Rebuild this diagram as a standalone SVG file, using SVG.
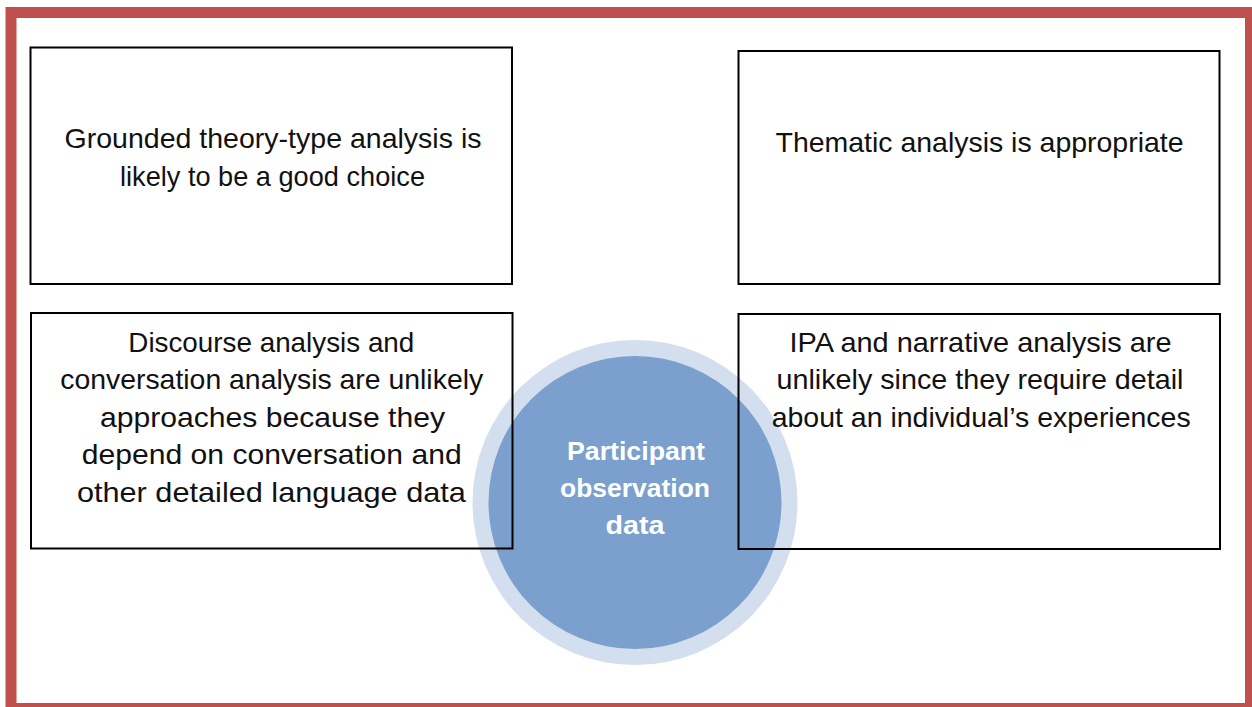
<svg xmlns="http://www.w3.org/2000/svg" width="1252" height="707" viewBox="0 0 1252 707">
  <style>
    .box { fill: none; stroke: #000000; stroke-width: 2; }
    .t { font-family: "Liberation Sans", Arial, sans-serif; font-size: 28px; fill: #111111; text-anchor: middle; }
    .c { font-family: "Liberation Sans", Arial, sans-serif; font-size: 25px; font-weight: bold; fill: #FFFFFF; text-anchor: middle; }
  </style>
  <rect x="0" y="0" width="1252" height="707" fill="#FFFFFF"/>
  <rect x="11" y="12.5" width="1239.5" height="696" fill="none" stroke="#C0504D" stroke-width="11"/>

  <g id="center">
    <circle cx="635" cy="502.5" r="162.5" fill="#D3DFEE"/>
    <circle cx="635" cy="502.5" r="146.5" fill="#7BA0CD"/>
    <text class="c" x="636" y="460" textLength="138" lengthAdjust="spacingAndGlyphs">Participant</text>
    <text class="c" x="635" y="497" textLength="150" lengthAdjust="spacingAndGlyphs">observation</text>
    <text class="c" x="635" y="534" textLength="59" lengthAdjust="spacingAndGlyphs">data</text>
  </g>

  <g id="box-grounded">
    <rect class="box" x="30.5" y="47.5" width="481.5" height="236.5"/>
    <text class="t" x="273" y="148" textLength="417" lengthAdjust="spacingAndGlyphs">Grounded theory-type analysis is</text>
    <text class="t" x="272.5" y="185.5" textLength="305" lengthAdjust="spacingAndGlyphs">likely to be a good choice</text>
  </g>

  <g id="box-thematic">
    <rect class="box" x="738.5" y="51" width="481" height="233"/>
    <text class="t" x="979.5" y="152" textLength="408" lengthAdjust="spacingAndGlyphs">Thematic analysis is appropriate</text>
  </g>

  <g id="box-discourse">
    <rect class="box" x="31" y="313" width="481.5" height="235.5"/>
    <text class="t" x="271.3" y="351.5" textLength="286" lengthAdjust="spacingAndGlyphs">Discourse analysis and</text>
    <text class="t" x="271.7" y="389" textLength="423" lengthAdjust="spacingAndGlyphs">conversation analysis are unlikely</text>
    <text class="t" x="272.5" y="426.5" textLength="345" lengthAdjust="spacingAndGlyphs">approaches because they</text>
    <text class="t" x="271.7" y="464" textLength="380" lengthAdjust="spacingAndGlyphs">depend on conversation and</text>
    <text class="t" x="271.4" y="501.5" textLength="389" lengthAdjust="spacingAndGlyphs">other detailed language data</text>
  </g>

  <g id="box-ipa">
    <rect class="box" x="738.5" y="314" width="481.5" height="235"/>
    <text class="t" x="980.5" y="351.5" textLength="382" lengthAdjust="spacingAndGlyphs">IPA and narrative analysis are</text>
    <text class="t" x="980" y="389" textLength="407" lengthAdjust="spacingAndGlyphs">unlikely since they require detail</text>
    <text class="t" x="981.2" y="426.5" textLength="419" lengthAdjust="spacingAndGlyphs">about an individual’s experiences</text>
  </g>

  <g id="connectors"></g>
</svg>
